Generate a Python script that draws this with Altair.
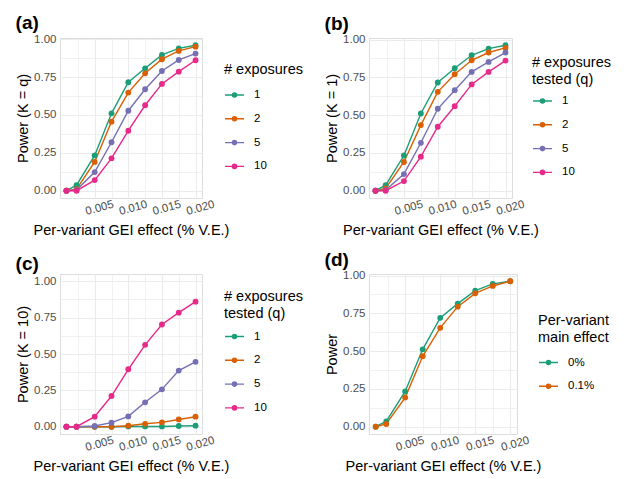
import altair as alt
import pandas as pd

# ---------------- data ----------------
effect = [0.0008, 0.0023, 0.005, 0.0075, 0.01, 0.0125, 0.015, 0.0175, 0.02]
q_levels = ["1", "2", "5", "10"]
main_levels = ["0%", "0.1%"]
dark2 = ["#1B9E77", "#D95F02", "#7570B3", "#E7298A"]

# (a) Power (K = q)
a_q1 = [0, 0.037, 0.233, 0.511, 0.716, 0.808, 0.896, 0.940, 0.960]
a_q2 = [0, 0.010, 0.190, 0.456, 0.648, 0.775, 0.868, 0.923, 0.951]
a_q5 = [0, 0.005, 0.123, 0.320, 0.528, 0.670, 0.790, 0.863, 0.905]
a_q10 = [0, 0.000, 0.070, 0.214, 0.396, 0.564, 0.705, 0.786, 0.861]

# (b) Power (K = 1)
b_q1 = [0, 0.037, 0.233, 0.511, 0.716, 0.810, 0.896, 0.940, 0.962]
b_q2 = [0, 0.015, 0.190, 0.434, 0.654, 0.771, 0.863, 0.914, 0.945]
b_q5 = [0, 0.005, 0.110, 0.317, 0.542, 0.665, 0.786, 0.852, 0.914]
b_q10 = [0, 0.000, 0.064, 0.225, 0.423, 0.559, 0.703, 0.786, 0.861]

# (c) Power (K = 10)
c_q1 = [0, 0, 0, 0, 0.002, 0.002, 0.002, 0.005, 0.007]
c_q2 = [0, 0, 0, 0, 0.007, 0.020, 0.030, 0.050, 0.069]
c_q5 = [0, 0, 0.005, 0.028, 0.071, 0.168, 0.257, 0.386, 0.446]
c_q10 = [0, 0, 0.069, 0.211, 0.395, 0.563, 0.703, 0.784, 0.860]

# (d) Power by main effect
d_m0 = [0, 0.035, 0.233, 0.512, 0.720, 0.814, 0.900, 0.945, 0.962]
d_m01 = [0, 0.018, 0.193, 0.466, 0.654, 0.794, 0.882, 0.931, 0.962]

x_major = [0.005, 0.010, 0.015, 0.020]
x_minor = [0.0025, 0.0075, 0.0125, 0.0175]
y_major = [0, 0.25, 0.5, 0.75, 1.0]
y_minor = [0.125, 0.375, 0.625, 0.875]

FONT = "Liberation Sans"
SYMBOL = ("M-1,0L1,0 "
          "M0.22,0A0.22,0.22,0,1,1,-0.22,0A0.22,0.22,0,1,1,0.22,0 "
          "M0.08,0A0.08,0.08,0,1,1,-0.08,0A0.08,0.08,0,1,1,0.08,0")


def expand(lo, hi):
    d = (hi - lo) * 0.05
    return [lo - d, hi + d]


def make_df(series, levels):
    rows = []
    for lvl, vals in zip(levels, series):
        for e, p in zip(effect, vals):
            rows.append({"effect": e, "power": p, "group": lvl})
    return pd.DataFrame(rows)


def panel(series, levels, colors, ytitle, ltitle, letter, width, ydom,
          lx, ly, ltpad, toffset):
    df = make_df(series, levels)
    xdom = expand(min(effect), max(effect))
    xaxis = alt.Axis(
        values=sorted(x_major + x_minor), format=".3f",
        labelExpr="round(datum.value*10000) % 50 == 0 ? datum.label : ''",
        labelAngle=345, labelAlign="center", labelBaseline="top",
        labelOverlap=False, labelBound=False, labelFlush=False,
        labelOffset=3,
        labelPadding=4, titlePadding=7, ticks=False, domain=False,
        labelFontSize=11.5, labelColor="#4D4D4D", labelFont=FONT,
        titleFontSize=14.5, titleFont=FONT, titleColor="black",
        titleFontWeight="normal", gridColor="#EBEBEB",
        gridWidth={"condition": {"test": "round(datum.value*10000) % 50 == 0",
                                 "value": 1.1}, "value": 0.7},
    )
    yaxis = alt.Axis(
        values=sorted(y_major + y_minor), format=".2f",
        labelExpr="round(datum.value*1000) % 250 == 0 ? datum.label : ''",
        labelOverlap=False, labelFlush=False,
        labelPadding=4, titlePadding=3, ticks=False, domain=False,
        labelFontSize=11.5, labelColor="#4D4D4D", labelFont=FONT,
        titleFontSize=14.5, titleFont=FONT, titleColor="black",
        titleFontWeight="normal", gridColor="#EBEBEB",
        gridWidth={"condition": {"test": "round(datum.value*1000) % 250 == 0",
                                 "value": 1.1}, "value": 0.7},
    )
    legend = alt.Legend(
        orient="none", legendX=lx, legendY=ly,
        symbolType=SYMBOL, symbolSize=361, symbolStrokeWidth=1.4,
        symbolOpacity=1,
        titleFontSize=14.5, titleFont=FONT, titleColor="black",
        titleFontWeight="normal", titleLineHeight=16.5, titlePadding=ltpad,
        labelFontSize=11.5, labelFont=FONT, labelColor="black",
        labelOffset=9, rowPadding=7.8,
    )
    chart = alt.Chart(df).mark_line(
        strokeWidth=1.4,
        point=alt.OverlayMarkDef(filled=True, size=34, opacity=1),
    ).encode(
        x=alt.X("effect:Q", title="Per-variant GEI effect (% V.E.)",
                scale=alt.Scale(domain=xdom, nice=False, zero=False),
                axis=xaxis),
        y=alt.Y("power:Q", title=ytitle,
                scale=alt.Scale(domain=ydom, nice=False, zero=False),
                axis=yaxis),
        color=alt.Color("group:N", title=ltitle,
                        scale=alt.Scale(domain=levels, range=colors),
                        sort=levels, legend=legend),
    ).properties(
        width=width, height=160,
        title=alt.TitleParams(letter, anchor="start", fontSize=19,
                              fontWeight="bold", font=FONT, color="black",
                              offset=toffset),
    )
    return chart


ymax_a = max(max(a_q1), max(a_q2), max(a_q5), max(a_q10))
ymax_b = max(max(b_q1), max(b_q2), max(b_q5), max(b_q10))
ymax_d = max(max(d_m0), max(d_m01))

pa = panel([a_q1, a_q2, a_q5, a_q10], q_levels, dark2, "Power (K = q)",
           "# exposures", "(a)", 142, expand(0, ymax_a), 164, 25, 7, 0)
pb = panel([b_q1, b_q2, b_q5, b_q10], q_levels, dark2, "Power (K = 1)",
           ["# exposures", "tested (q)"], "(b)", 143, expand(0, ymax_b),
           163, 18, 3.5, 0)
pc = panel([c_q1, c_q2, c_q5, c_q10], q_levels, dark2, "Power (K = 10)",
           ["# exposures", "tested (q)"], "(c)", 142, expand(0, 1.0),
           164, 16, 5, 0)
pd_ = panel([d_m0, d_m01], main_levels, dark2[:2], "Power",
            ["Per-variant", "main effect"], "(d)", 148, expand(0, ymax_d),
            169, 40, 7, 0)

top = alt.hconcat(pa, pb, spacing=20).resolve_scale(color="independent")
bottom = alt.hconcat(pc, pd_, spacing=20).resolve_scale(color="independent")
chart = alt.vconcat(top, bottom, spacing=12).resolve_scale(
    color="independent"
).configure_view(stroke=None).configure(
    background="white",
    padding={"left": 7, "top": 5, "right": 0, "bottom": 0},
)

chart.save("out.html", embed_options={"renderer": "svg", "actions": False})
